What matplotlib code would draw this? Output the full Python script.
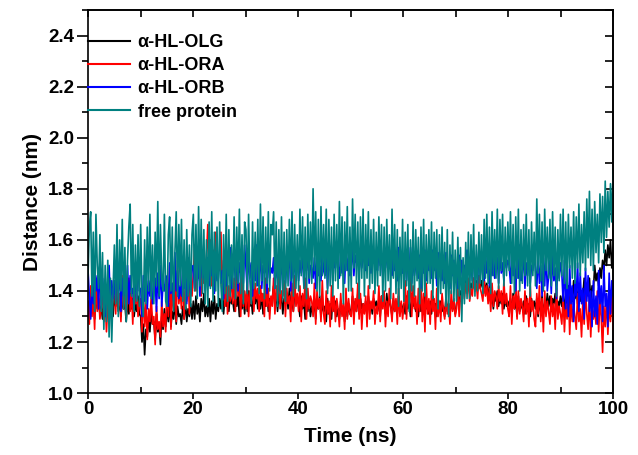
import numpy as np
import matplotlib
matplotlib.use("Agg")
import matplotlib.pyplot as plt
from matplotlib.ticker import MultipleLocator, FormatStrFormatter

plt.rcParams['font.family'] = ['Liberation Sans', 'DejaVu Sans']
plt.rcParams['font.weight'] = 'bold'

labels = ["\u03b1-HL-OLG", "\u03b1-HL-ORA", "\u03b1-HL-ORB", "free protein"]
colors = ["#000000", "#ff0000", "#0000ff", "#008080"]

# distances in units of 0.01 nm, sampled evenly over 0-100 ns
olg_cnm = [
    135, 130, 138, 132, 136, 129, 139, 133, 137, 131,
    134, 129, 137, 131, 135, 130, 138, 132, 136, 130,
    138, 134, 140, 132, 136, 130, 137, 133, 135, 128,
    136, 131, 139, 133, 137, 130, 135, 132, 138, 131,
    130, 120, 127, 115, 125, 122, 130, 124, 132, 127,
    128, 121, 131, 124, 127, 119, 130, 125, 133, 126,
    133, 128, 135, 126, 132, 129, 136, 127, 134, 130,
    131, 127, 134, 129, 136, 128, 133, 130, 135, 129,
    136, 129, 138, 131, 135, 128, 137, 132, 139, 130,
    134, 130, 137, 128, 136, 131, 138, 129, 135, 132,
    137, 133, 140, 131, 138, 134, 141, 132, 139, 135,
    136, 132, 139, 134, 138, 130, 140, 133, 137, 131,
    138, 132, 140, 134, 137, 131, 141, 135, 139, 133,
    136, 133, 139, 131, 138, 134, 140, 132, 137, 135,
    137, 142, 134, 139, 132, 140, 135, 138, 131, 137,
    135, 139, 133, 141, 134, 137, 132, 140, 136, 138,
    135, 130, 138, 133, 136, 129, 139, 132, 137, 130,
    134, 131, 137, 129, 136, 133, 138, 130, 135, 132,
    134, 128, 137, 131, 135, 129, 138, 132, 136, 130,
    133, 129, 136, 131, 134, 128, 137, 130, 135, 131,
    133, 138, 130, 136, 132, 139, 131, 137, 133, 135,
    132, 136, 130, 138, 133, 135, 131, 137, 134, 136,
    132, 137, 130, 138, 134, 136, 131, 139, 133, 137,
    134, 130, 137, 132, 136, 131, 138, 133, 135, 132,
    135, 131, 138, 133, 136, 130, 139, 134, 137, 132,
    134, 130, 137, 132, 136, 131, 138, 133, 135, 131,
    136, 131, 138, 133, 135, 130, 137, 134, 136, 132,
    134, 130, 137, 132, 135, 131, 136, 133, 134, 131,
    135, 138, 136, 140, 138, 142, 139, 144, 140, 143,
    139, 143, 141, 145, 140, 144, 142, 146, 141, 144,
    141, 145, 139, 143, 137, 142, 135, 139, 133, 138,
    136, 140, 134, 138, 135, 139, 133, 137, 134, 136,
    134, 137, 131, 139, 133, 136, 130, 138, 132, 135,
    133, 136, 131, 138, 132, 135, 130, 137, 133, 136,
    133, 137, 130, 136, 132, 138, 131, 135, 133, 139,
    134, 138, 132, 137, 135, 139, 133, 136, 134, 138,
    134, 140, 132, 138, 135, 142, 133, 139, 136, 144,
    137, 141, 135, 143, 136, 140, 138, 145, 137, 142,
    138, 145, 136, 142, 140, 150, 144, 147, 142, 149,
    145, 152, 148, 156, 150, 158, 153, 160, 149, 157,
]

ora_cnm = [
    136, 127, 142, 130, 138, 125, 145, 132, 140, 129,
    133, 141, 128, 137, 124, 135, 131, 143, 129, 138,
    144, 131, 148, 134, 139, 128, 146, 133, 141, 130,
    137, 145, 132, 140, 127, 143, 135, 139, 130, 136,
    137, 124, 140, 126, 135, 121, 133, 128, 138, 127,
    130, 119, 134, 125, 128, 122, 136, 126, 131, 124,
    145, 130, 150, 125, 143, 132, 148, 128, 152, 135,
    140, 133, 147, 129, 144, 136, 150, 131, 145, 138,
    147, 158, 140, 155, 145, 152, 138, 156, 143, 150,
    153, 166, 150, 160, 142, 156, 148, 163, 145, 154,
    148, 163, 138, 152, 134, 146, 131, 142, 136, 148,
    135, 145, 132, 150, 138, 143, 130, 147, 134, 140,
    133, 144, 130, 140, 135, 146, 132, 143, 137, 141,
    132, 142, 136, 139, 130, 145, 134, 141, 129, 138,
    134, 145, 131, 142, 136, 148, 133, 140, 138, 144,
    130, 141, 135, 138, 128, 143, 132, 146, 134, 139,
    132, 142, 128, 139, 134, 145, 129, 141, 133, 138,
    136, 130, 143, 127, 140, 133, 137, 128, 144, 131,
    127, 140, 131, 136, 126, 142, 132, 138, 128, 137,
    133, 126, 139, 130, 135, 125, 141, 129, 137, 131,
    130, 141, 127, 137, 132, 143, 129, 139, 125, 135,
    131, 138, 126, 142, 129, 136, 133, 140, 127, 134,
    131, 142, 128, 138, 133, 140, 126, 136, 130, 141,
    134, 128, 139, 132, 137, 127, 141, 130, 136, 129,
    134, 144, 129, 140, 135, 146, 130, 142, 133, 138,
    127, 141, 132, 145, 128, 139, 124, 143, 131, 137,
    127, 140, 132, 137, 125, 141, 130, 136, 128, 139,
    133, 129, 138, 131, 135, 127, 140, 132, 137, 130,
    133, 142, 130, 138, 136, 144, 137, 143, 139, 145,
    136, 141, 138, 145, 140, 143, 137, 146, 141, 139,
    136, 144, 138, 142, 135, 141, 132, 143, 134, 140,
    138, 133, 142, 136, 140, 131, 144, 135, 139, 133,
    130, 142, 127, 138, 133, 144, 129, 140, 131, 137,
    134, 128, 140, 131, 137, 126, 142, 132, 136, 129,
    126, 139, 131, 142, 128, 137, 124, 140, 130, 136,
    132, 127, 138, 130, 135, 125, 141, 129, 134, 131,
    127, 138, 124, 135, 129, 141, 123, 137, 128, 134,
    130, 125, 139, 128, 133, 122, 136, 127, 140, 131,
    125, 138, 122, 135, 129, 133, 127, 140, 124, 136,
    130, 116, 134, 126, 138, 123, 135, 128, 141, 125,
]

orb_cnm = [
    148, 138, 129, 142, 135, 150, 140, 146, 133, 152,
    133, 145, 138, 130, 142, 136, 150, 134, 144, 137,
    144, 136, 155, 140, 147, 132, 145, 138, 143, 137,
    150, 135, 146, 139, 141, 133, 148, 137, 152, 140,
    141, 130, 146, 136, 152, 133, 144, 138, 149, 135,
    139, 145, 132, 147, 137, 150, 134, 143, 140, 146,
    145, 134, 151, 139, 143, 136, 155, 140, 148, 137,
    142, 138, 150, 141, 147, 135, 153, 143, 139, 149,
    150, 141, 156, 144, 152, 138, 158, 145, 150, 140,
    147, 153, 142, 157, 146, 149, 139, 155, 144, 151,
    153, 143, 148, 137, 155, 142, 150, 146, 157, 141,
    149, 152, 144, 156, 140, 151, 147, 153, 143, 158,
    149, 140, 156, 145, 151, 138, 154, 144, 158, 142,
    146, 155, 141, 150, 147, 153, 139, 157, 145, 149,
    147, 153, 141, 150, 145, 157, 140, 152, 146, 155,
    143, 151, 148, 156, 140, 153, 145, 150, 147, 154,
    144, 152, 147, 156, 142, 151, 148, 155, 143, 150,
    149, 145, 153, 141, 157, 146, 150, 144, 156, 148,
    146, 154, 141, 153, 148, 157, 144, 152, 149, 156,
    150, 145, 155, 147, 152, 143, 158, 148, 153, 146,
    150, 157, 146, 154, 151, 158, 147, 155, 149, 153,
    152, 148, 156, 150, 154, 147, 157, 151, 155, 149,
    148, 156, 150, 154, 145, 157, 149, 153, 151, 156,
    150, 146, 155, 148, 153, 144, 157, 150, 152, 147,
    147, 155, 144, 152, 148, 157, 143, 153, 146, 150,
    149, 145, 154, 141, 151, 147, 156, 144, 152, 148,
    152, 145, 156, 148, 153, 142, 155, 147, 151, 144,
    150, 143, 155, 147, 149, 141, 154, 146, 152, 145,
    149, 141, 154, 146, 152, 143, 150, 145, 156, 148,
    147, 152, 144, 155, 149, 151, 143, 157, 146, 150,
    151, 144, 155, 147, 153, 142, 150, 146, 157, 145,
    148, 153, 143, 156, 147, 151, 144, 155, 149, 152,
    150, 143, 156, 146, 152, 140, 154, 145, 158, 144,
    147, 155, 141, 151, 146, 157, 143, 150, 148, 154,
    149, 141, 155, 143, 150, 138, 153, 142, 156, 140,
    146, 152, 139, 155, 144, 149, 137, 153, 145, 151,
    147, 136, 152, 133, 145, 130, 150, 135, 142, 128,
    144, 138, 151, 132, 147, 135, 141, 129, 149, 136,
    146, 132, 140, 126, 144, 130, 138, 127, 148, 135,
    142, 128, 150, 134, 139, 126, 147, 131, 144, 138,
]

free_cnm = [
    146, 165, 171, 138, 163, 132, 170, 150, 141, 162,
    132, 155, 125, 150, 128, 152, 122, 145, 120, 140,
    158, 135, 166, 130, 160, 140, 168, 133, 157, 128,
    152, 165, 174, 138, 166, 132, 158, 136, 162, 134,
    166, 138, 130, 160, 135, 165, 140, 170, 137, 158,
    135, 163, 142, 175, 138, 166, 145, 140, 170, 136,
    134, 162, 169, 140, 165, 132, 155, 171, 138, 166,
    142, 168, 136, 160, 133, 164, 138, 158, 134, 162,
    170, 140, 166, 137, 173, 142, 168, 139, 164, 135,
    160, 134, 167, 141, 171, 136, 163, 140, 165, 134,
    167, 142, 132, 162, 139, 170, 136, 164, 138, 158,
    141, 169, 137, 165, 143, 172, 139, 162, 135, 167,
    164, 139, 170, 144, 135, 167, 141, 163, 142, 168,
    139, 174, 144, 169, 137, 165, 143, 171, 140, 166,
    162, 171, 141, 167, 134, 164, 139, 169, 137, 163,
    136, 164, 142, 168, 144, 171, 138, 166, 141, 162,
    140, 172, 146, 169, 141, 165, 137, 170, 145, 167,
    143, 180, 148, 171, 140, 168, 138, 173, 146, 166,
    145, 172, 139, 168, 142, 165, 138, 170, 144, 166,
    141, 175, 146, 169, 135, 167, 148, 173, 140, 165,
    140, 176, 149, 170, 143, 167, 137, 169, 145, 172,
    138, 166, 145, 171, 141, 164, 143, 168, 139, 163,
    142, 169, 146, 166, 136, 165, 140, 168, 144, 162,
    137, 172, 145, 166, 139, 164, 134, 161, 141, 168,
    136, 163, 142, 166, 132, 160, 140, 167, 138, 164,
    144, 161, 135, 165, 140, 168, 138, 162, 143, 164,
    143, 167, 137, 163, 145, 164, 133, 162, 139, 165,
    141, 159, 134, 164, 130, 158, 139, 163, 136, 156,
    136, 161, 138, 157, 128, 153, 135, 159, 137, 163,
    137, 162, 141, 166, 138, 158, 140, 163, 143, 162,
    139, 168, 145, 170, 143, 165, 139, 171, 146, 164,
    145, 172, 141, 168, 148, 170, 142, 165, 146, 167,
    148, 171, 143, 166, 139, 169, 145, 172, 140, 164,
    143, 166, 146, 170, 142, 164, 138, 167, 146, 163,
    142, 176, 147, 170, 144, 167, 140, 172, 148, 165,
    145, 168, 142, 171, 146, 165, 138, 164, 144, 170,
    146, 172, 143, 167, 141, 170, 149, 165, 145, 171,
    143, 169, 149, 174, 146, 166, 151, 171, 148, 176,
    153, 179, 150, 172, 148, 175, 155, 170, 151, 178,
    159, 177, 155, 183, 161, 179, 165, 182, 167, 187,
]

series_cnm = [olg_cnm, ora_cnm, orb_cnm, free_cnm]
time_ns = np.linspace(0, 100, len(olg_cnm))

fig = plt.figure(figsize=(6.38, 4.55), dpi=100)
ax = fig.add_axes([0.138, 0.136, 0.823, 0.842])

for vals, lab, col in zip(series_cnm, labels, colors):
    ax.plot(time_ns, np.asarray(vals) / 100.0, color=col, lw=1.2, label=lab)

ax.set_xlim(0, 100)
ax.set_ylim(1.0, 2.5)
ax.xaxis.set_major_locator(MultipleLocator(20))
ax.xaxis.set_minor_locator(MultipleLocator(10))
ax.yaxis.set_major_locator(MultipleLocator(0.2))
ax.yaxis.set_minor_locator(MultipleLocator(0.1))
ax.yaxis.set_major_formatter(FormatStrFormatter('%.1f'))

ax.tick_params(axis='x', which='major', direction='out', length=4, width=1.2,
               labelsize=13.5, pad=2)
ax.tick_params(axis='x', which='minor', direction='in', length=4, width=1.2)
ax.tick_params(axis='y', which='major', direction='out', length=8, width=1.2,
               labelsize=13.5, pad=2)
ax.tick_params(axis='y', which='minor', direction='out', length=4, width=1.2)
for lab in ax.get_xticklabels() + ax.get_yticklabels():
    lab.set_fontweight('bold')

for sp in ax.spines.values():
    sp.set_linewidth(1.2)

top = ax.secondary_xaxis('top')
top.set_xticks(np.arange(0, 101, 10))
top.set_xticklabels([''] * 11)
top.tick_params(direction='in', length=5, width=1.2)
top.spines['top'].set_linewidth(1.2)

rticks = np.arange(1.0, 2.51, 0.1)
right = ax.secondary_yaxis('right')
right.set_yticks(rticks)
right.set_yticklabels([''] * len(rticks))
right.tick_params(direction='in', length=6, width=1.2)
right.spines['right'].set_linewidth(1.2)

ax.set_xlabel('Time (ns)', fontsize=15, fontweight='bold', labelpad=6)
ax.set_ylabel('Distance (nm)', fontsize=15, fontweight='bold', labelpad=4)

leg = ax.legend(loc='upper left', bbox_to_anchor=(0.0, 0.937), frameon=False,
                fontsize=13, handlelength=2.3, handletextpad=0.45,
                labelspacing=0.34, borderpad=0, borderaxespad=0)
for t in leg.get_texts():
    t.set_fontweight('bold')
for h in leg.get_lines():
    h.set_linewidth(1.5)

fig.savefig('out.png', dpi=100)
